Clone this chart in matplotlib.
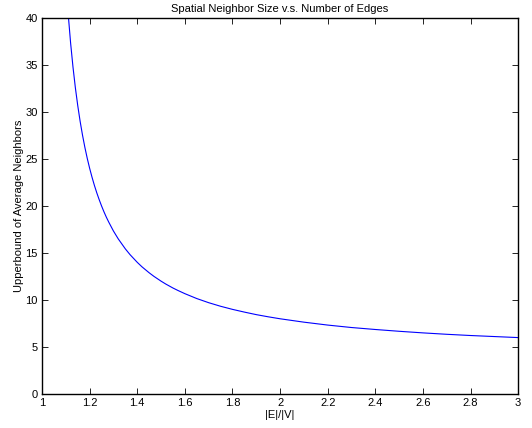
import matplotlib
matplotlib.use('Agg')
import matplotlib.pyplot as plt

# values
ratio = [1.105, 1.11, 1.12, 1.13, 1.14, 1.15, 1.16, 1.17, 1.18, 1.19, 1.2, 1.21,
         1.22, 1.23, 1.24, 1.25, 1.26, 1.27, 1.28, 1.3, 1.32, 1.35, 1.37, 1.4,
         1.42, 1.45, 1.47, 1.5, 1.52, 1.55, 1.57, 1.6, 1.65, 1.7, 1.75, 1.8,
         1.85, 1.9, 1.95, 2.0, 2.1, 2.2, 2.3, 2.4, 2.5, 2.6, 2.7, 2.8, 2.9, 3.0]
neighbors = [46.1, 40.36, 37.33, 34.77, 32.57, 30.67, 29.0, 27.53, 26.22, 25.05,
             24.0, 23.05, 22.18, 21.39, 20.67, 20.0, 19.38, 18.81, 18.29, 17.33,
             16.5, 15.43, 14.81, 14.0, 13.52, 12.89, 12.51, 12.0, 11.69, 11.27,
             11.02, 10.67, 10.15, 9.71, 9.33, 9.0, 8.71, 8.44, 8.21, 8.0, 7.64,
             7.33, 7.07, 6.86, 6.67, 6.5, 6.35, 6.22, 6.11, 6.0]

xticks = [1, 1.2, 1.4, 1.6, 1.8, 2, 2.2, 2.4, 2.6, 2.8, 3]
xticklabels = ['1', '1.2', '1.4', '1.6', '1.8', '2', '2.2', '2.4', '2.6', '2.8', '3']
yticks = [0, 5, 10, 15, 20, 25, 30, 35, 40]

plt.rcParams['font.family'] = ['Liberation Sans', 'DejaVu Sans']
plt.rcParams['font.size'] = 8

fig = plt.figure(figsize=(5.32, 4.28), dpi=100)
ax = fig.add_axes([0.079, 0.0794, 0.895, 0.879])
ax.plot(ratio, neighbors, color='#0000ff', lw=0.8)

ax.set_xlim(1, 3)
ax.set_ylim(0, 40)
ax.set_xticks(xticks)
ax.set_xticklabels(xticklabels)
ax.set_yticks(yticks)
ax.tick_params(direction='in', top=True, right=True, length=4, width=0.6, labelsize=8, pad=3)
for s in ax.spines.values():
    s.set_linewidth(1.0)

ax.set_xlabel('|E|/|V|', fontsize=8, labelpad=1)
ax.set_ylabel('Upperbound of Average Neighbors', fontsize=8, labelpad=1)
ax.set_title('Spatial Neighbor Size v.s. Number of Edges', fontsize=8, pad=4)

fig.savefig('out.png', dpi=100)
